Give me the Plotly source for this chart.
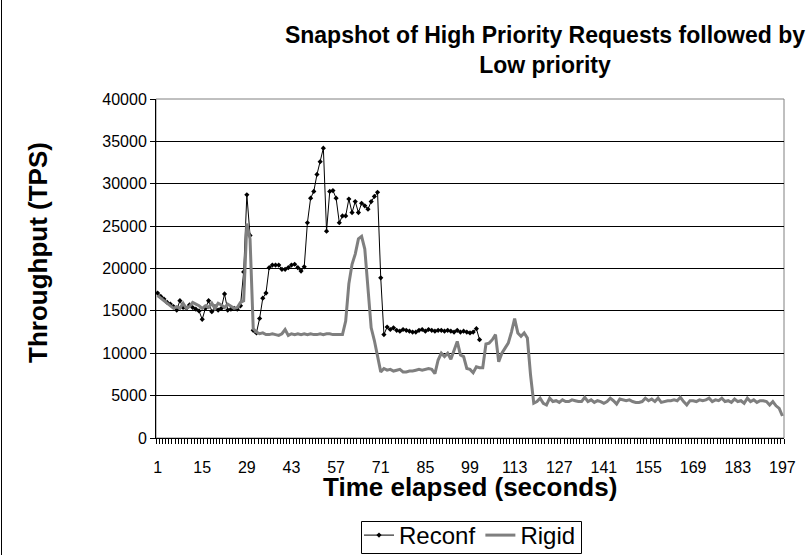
import plotly.graph_objects as go

# ---------------- data ----------------
seconds = list(range(1, 198))
tick_labels = list(range(1, 198, 14))

reconf = [
    17100, 16700, 16400, 16000, 15800, 15500, 15100, 16200, 15400, 15300,
    15700, 15400, 15200, 15000, 14000, 15300, 16200, 14900, 15500, 15100,
    15300, 17000, 15100, 15200, 15300, 15200, 15600, 19600, 28700, 23900,
    12700, 12400, 14100, 16500, 17100, 20100, 20400, 20400, 20400, 19900,
    19900, 20100, 20400, 20500, 20100, 19700, 20200, 25400, 28300, 29100,
    31100, 32600, 34200, 24400, 29100, 29200, 28300, 25400, 26200, 26200,
    28200, 26600, 27900, 26600, 27700, 27400, 27000, 27900, 28500, 29000,
    18900, 12200, 13100, 12800, 13000, 12700, 12600, 12800, 12700, 12600,
    12500, 12500, 12700, 12800, 12600, 12800, 12700, 12600, 12700, 12700,
    12600, 12700, 12600, 12500, 12700, 12500, 12600, 12500, 12400, 12500,
    12900, 11600,
]

rigid = [
    16800, 16500, 16200, 15900, 15600, 15300, 15500, 15300, 15900, 15300,
    15500, 16000, 15800, 15600, 15300, 15600, 15400, 15900, 15300, 15900,
    15700, 15400, 15800, 15600, 15300, 15400, 16000, 16200, 25300, 23500,
    12900, 12500, 12300, 12400, 12200, 12200, 12300, 12200, 12100, 12300,
    12800, 12100, 12300, 12200, 12300, 12200, 12300, 12200, 12300, 12200,
    12200, 12300, 12200, 12300, 12300, 12200, 12200, 12200, 12200, 13800,
    18200, 20500, 21700, 23500, 23800, 22300, 18000, 13000, 11500, 9800,
    7800, 8200, 8000, 8100, 7900, 8000, 8100, 7800, 7800, 7900,
    7900, 8000, 8100, 8000, 8100, 8200, 8100, 7600, 9200, 10000,
    9600, 10000, 9300, 10400, 11400, 9800, 9600, 8200, 8100, 7700,
    8400, 8300, 8300, 11100, 11200, 11600, 12200, 9000, 10000, 10600,
    11200, 12500, 14100, 12400, 12000, 12400, 11800, 7400, 4100, 4300,
    4700, 4100, 3900, 4700, 4300, 4400, 4200, 4500, 4300, 4300,
    4500, 4400, 4300, 4300, 4800, 4300, 4500, 4200, 4400, 4300,
    4100, 4300, 4700, 4400, 4000, 4600, 4500, 4400, 4500, 4300,
    4200, 4200, 4300, 4700, 4400, 4600, 4300, 4700, 4200, 4300,
    4400, 4400, 4500, 4400, 4800, 4300, 3900, 4400, 4400, 4300,
    4500, 4400, 4500, 4700, 4300, 4500, 4400, 4700, 4300, 4400,
    4200, 4600, 4300, 4400, 4100, 4700, 4300, 4500, 4200, 4400,
    4400, 4300, 3900, 4300, 3800, 3500, 2600,
]

reconf_full = reconf + [None] * (len(seconds) - len(reconf))

# ---------------- figure ----------------
W, H = 806, 555
ML, MR, MT, MB = 156, 22, 99, 117
PW, PH = W - ML - MR, H - MT - MB

fig = go.Figure()
fig.add_trace(go.Scatter(
    x=seconds, y=reconf_full, name="Reconf", mode="lines+markers",
    line=dict(color="black", width=1),
    marker=dict(symbol="diamond", size=4, color="black"),
    connectgaps=False,
))
fig.add_trace(go.Scatter(
    x=seconds, y=rigid, name="Rigid", mode="lines",
    line=dict(color="#7f7f7f", width=3),
))

def px_x(p):
    return (p - ML) / PW

def px_y(p):
    return (H - MB - p) / PH

fig.update_layout(
    width=W, height=H,
    margin=dict(l=ML, r=MR, t=MT, b=MB, autoexpand=False),
    paper_bgcolor="white", plot_bgcolor="white",
    font=dict(family="Liberation Sans, Arial, sans-serif", color="black", size=16),
    title=dict(
        text="<b>Snapshot of High Priority Requests followed by<br>Low priority</b>",
        x=545 / W, xanchor="center", xref="container",
        y=1 - 43 / H, yanchor="top", yref="container",
        font=dict(size=23, color="black"),
    ),
    showlegend=True,
    legend=dict(
        orientation="h", x=0.5, xanchor="center",
        y=px_y(513), yanchor="top",
        borderwidth=0, bgcolor="rgba(0,0,0,0)",
        font=dict(size=24),
        traceorder="normal",
        itemwidth=30,
    ),
    xaxis=dict(
        range=[0.5, 197.5], tickmode="array", tickvals=tick_labels,
        ticktext=[str(t) for t in tick_labels], ticks="",
        ticklabelstandoff=15,
        showline=True, linecolor="black", linewidth=1,
        showgrid=False, zeroline=False,
        tickfont=dict(size=16),
        minor=dict(ticks="outside", dtick=1, tick0=0.5, ticklen=5,
                   tickcolor="black", tickwidth=1, showgrid=False),
    ),
    yaxis=dict(
        range=[0, 40000], dtick=5000, tick0=0, tickformat="d",
        showline=True, linecolor="black", linewidth=1,
        showgrid=True, gridcolor="black", gridwidth=1,
        zeroline=False, ticks="outside", ticklen=5, tickcolor="black",
        tickfont=dict(size=16),
    ),
    annotations=[
        dict(text="<b>Time elapsed (seconds)</b>", xref="paper", yref="paper",
             x=0.5, y=px_y(487), xanchor="center", yanchor="middle",
             showarrow=False, font=dict(size=26)),
        dict(text="<b>Throughput (TPS)</b>", xref="paper", yref="paper",
             x=px_x(38), y=px_y(252), xanchor="center", yanchor="middle",
             textangle=-90, showarrow=False, font=dict(size=26)),
    ],
    shapes=[
        dict(type="rect", xref="paper", yref="paper", x0=0, x1=1, y0=0, y1=1,
             line=dict(color="#808080", width=1), layer="below"),
        dict(type="line", xref="paper", yref="paper",
             x0=px_x(1.5), x1=px_x(1.5), y0=px_y(0), y1=px_y(H),
             line=dict(color="black", width=1)),
        # legend frame
        dict(type="rect", xref="paper", yref="paper",
             x0=px_x(361.5), x1=px_x(581.5), y0=px_y(553.5), y1=px_y(521.5),
             line=dict(color="black", width=1)),
    ],
)

fig.write_html("out.html", config={"displayModeBar": False},
               post_script="document.body.style.margin='0';")
